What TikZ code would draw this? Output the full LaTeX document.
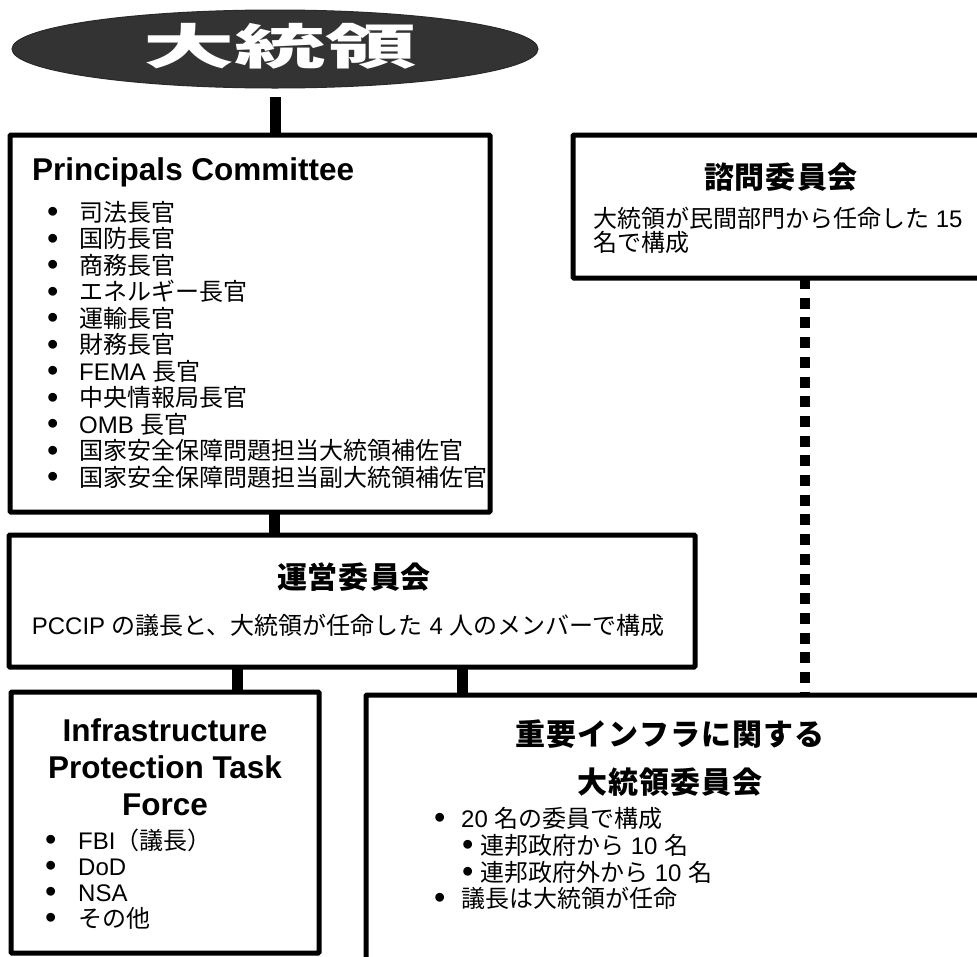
\documentclass[tikz,border=0pt]{standalone}
\usepackage{fontspec}
\setmainfont{Liberation Sans}
\newfontfamily\jp{Noto Sans CJK JP}
\usetikzlibrary{shapes.geometric}
\definecolor{presgray}{HTML}{333333}
\newcommand\J[1]{{\jp #1}}
\newcommand\bul{\raisebox{-1.5pt}{\scalebox{1.35}{\textbullet}}}
\makeatletter
\newcommand\spaced[2]{\def\sp@gap{#1}\sp@loop#2\relax\unskip}
\def\sp@loop#1{\ifx#1\relax\else#1\hspace{\sp@gap}\expandafter\sp@loop\fi}
\makeatother
\tikzset{
  orgbox/.style={draw, line width=5pt, rectangle, inner sep=0pt, outer sep=0pt, rounded corners=1pt},
  conn/.style={line width=11pt},
  dotconn/.style={line width=10pt, dash pattern=on 11pt off 8.7pt},
  item/.style={anchor=base west, inner sep=0pt, text height=18pt, text depth=4pt, font=\fontsize{24}{26}\selectfont},
  ttl/.style={inner sep=0pt, font=\jp\bfseries\fontsize{30}{32}\selectfont},
  enttl/.style={inner sep=0pt, font=\bfseries\fontsize{31.5}{37}\selectfont}
}
\begin{document}
\begin{tikzpicture}[x=1pt,y=-1pt]
\useasboundingbox (0,0) rectangle (977,956);
\clip (0,0) rectangle (977,956);

% President
\node[ellipse, fill=presgray, draw=presgray!80!black, line width=1pt, minimum width=526pt, minimum height=78pt, inner sep=0pt] (pres) at (275,49) {};
\node[text=white, inner sep=0pt] (prestitle) at (280,46) {\scalebox{1.63}[0.86]{\jp\bfseries\fontsize{56}{58}\selectfont 大統領}};

% Boxes
\node[orgbox, minimum width=480pt, minimum height=377pt] (pc) at (250,323.5) {};
\node[orgbox, minimum width=440pt, minimum height=143pt] (adv) at (793,206.5) {};
\node[orgbox, minimum width=686pt, minimum height=132pt] (steer) at (352,601) {};
\node[orgbox, minimum width=308pt, minimum height=261pt] (iptf) at (165,822.5) {};
\node[orgbox, minimum width=650pt, minimum height=320pt] (pcc) at (691,855) {};

% Connectors
\coordinate (presfoot) at (275,97);
\coordinate (xa) at (274,0);
\coordinate (xb) at (237,0);
\coordinate (xc) at (462,0);
\coordinate (xd) at (805,0);
\draw[conn] (presfoot) -- (presfoot |- pc.north);
\draw[conn] (pc.south -| xa) -- (steer.north -| xa);
\draw[conn] (steer.south -| xb) -- (iptf.north -| xb);
\draw[conn] (steer.south -| xc) -- (pcc.north -| xc);
\draw[dotconn] (adv.south -| xd) -- (pcc.north -| xd);

% Principals Committee
\node[enttl, anchor=base west] (pctitle) at (32,180) {Principals Committee};
\foreach \t [count=\i] in {\J{司法長官},\J{国防長官},\J{商務長官},\J{エネルギー長官},\J{運輸長官},\J{財務長官},FEMA \J{長官},\J{中央情報局長官},OMB \J{長官},\J{国家安全保障問題担当大統領補佐官},\J{国家安全保障問題担当副大統領補佐官}}
  \node[item] (pci\i) at (47,{221+26.5*(\i-1)}) {\makebox[32pt][l]{\bul}\t};

% Advisory committee
\node[ttl] (advtitle) at (781,177) {\spaced{1pt}{諮問委員会}};
\node[item] (advl1) at (593,227) {\J{大統領が民間部門から任命した} 15};
\node[item] (advl2) at (593,251) {\J{名で構成}};

% Steering committee
\node[ttl] (steertitle) at (354,577) {\spaced{1pt}{運営委員会}};
\node[item, anchor=base] (steerl1) at (348,634) {PCCIP \J{の議長と、大統領が任命した} 4 \J{人のメンバーで構成}};

% IPTF
\node[enttl, align=center] (iptftitle) at (165,767) {Infrastructure\\Protection Task\\Force};
\foreach \t [count=\i] in {FBI\J{（議長）},DoD,NSA,\J{その他}}
  \node[item] (iptfi\i) at (45,{849+26*(\i-1)}) {\makebox[33pt][l]{\bul}\t};

% PCCIP
\node[ttl] (pcctitle1) at (670,734) {\spaced{1pt}{重要インフラに関する}};
\node[ttl] (pcctitle2) at (670,782) {\spaced{1pt}{大統領委員会}};
\node[item] (pcci1) at (434,827) {\makebox[27pt][l]{\bul}20 \J{名の委員で構成}};
\node[item] (pcci2) at (462,854) {\makebox[18pt][l]{\bul}\J{連邦政府から} 10 \J{名}};
\node[item] (pcci3) at (462,881) {\makebox[18pt][l]{\bul}\J{連邦政府外から} 10 \J{名}};
\node[item] (pcci4) at (434,907) {\makebox[27pt][l]{\bul}\J{議長は大統領が任命}};
\end{tikzpicture}
\end{document}
